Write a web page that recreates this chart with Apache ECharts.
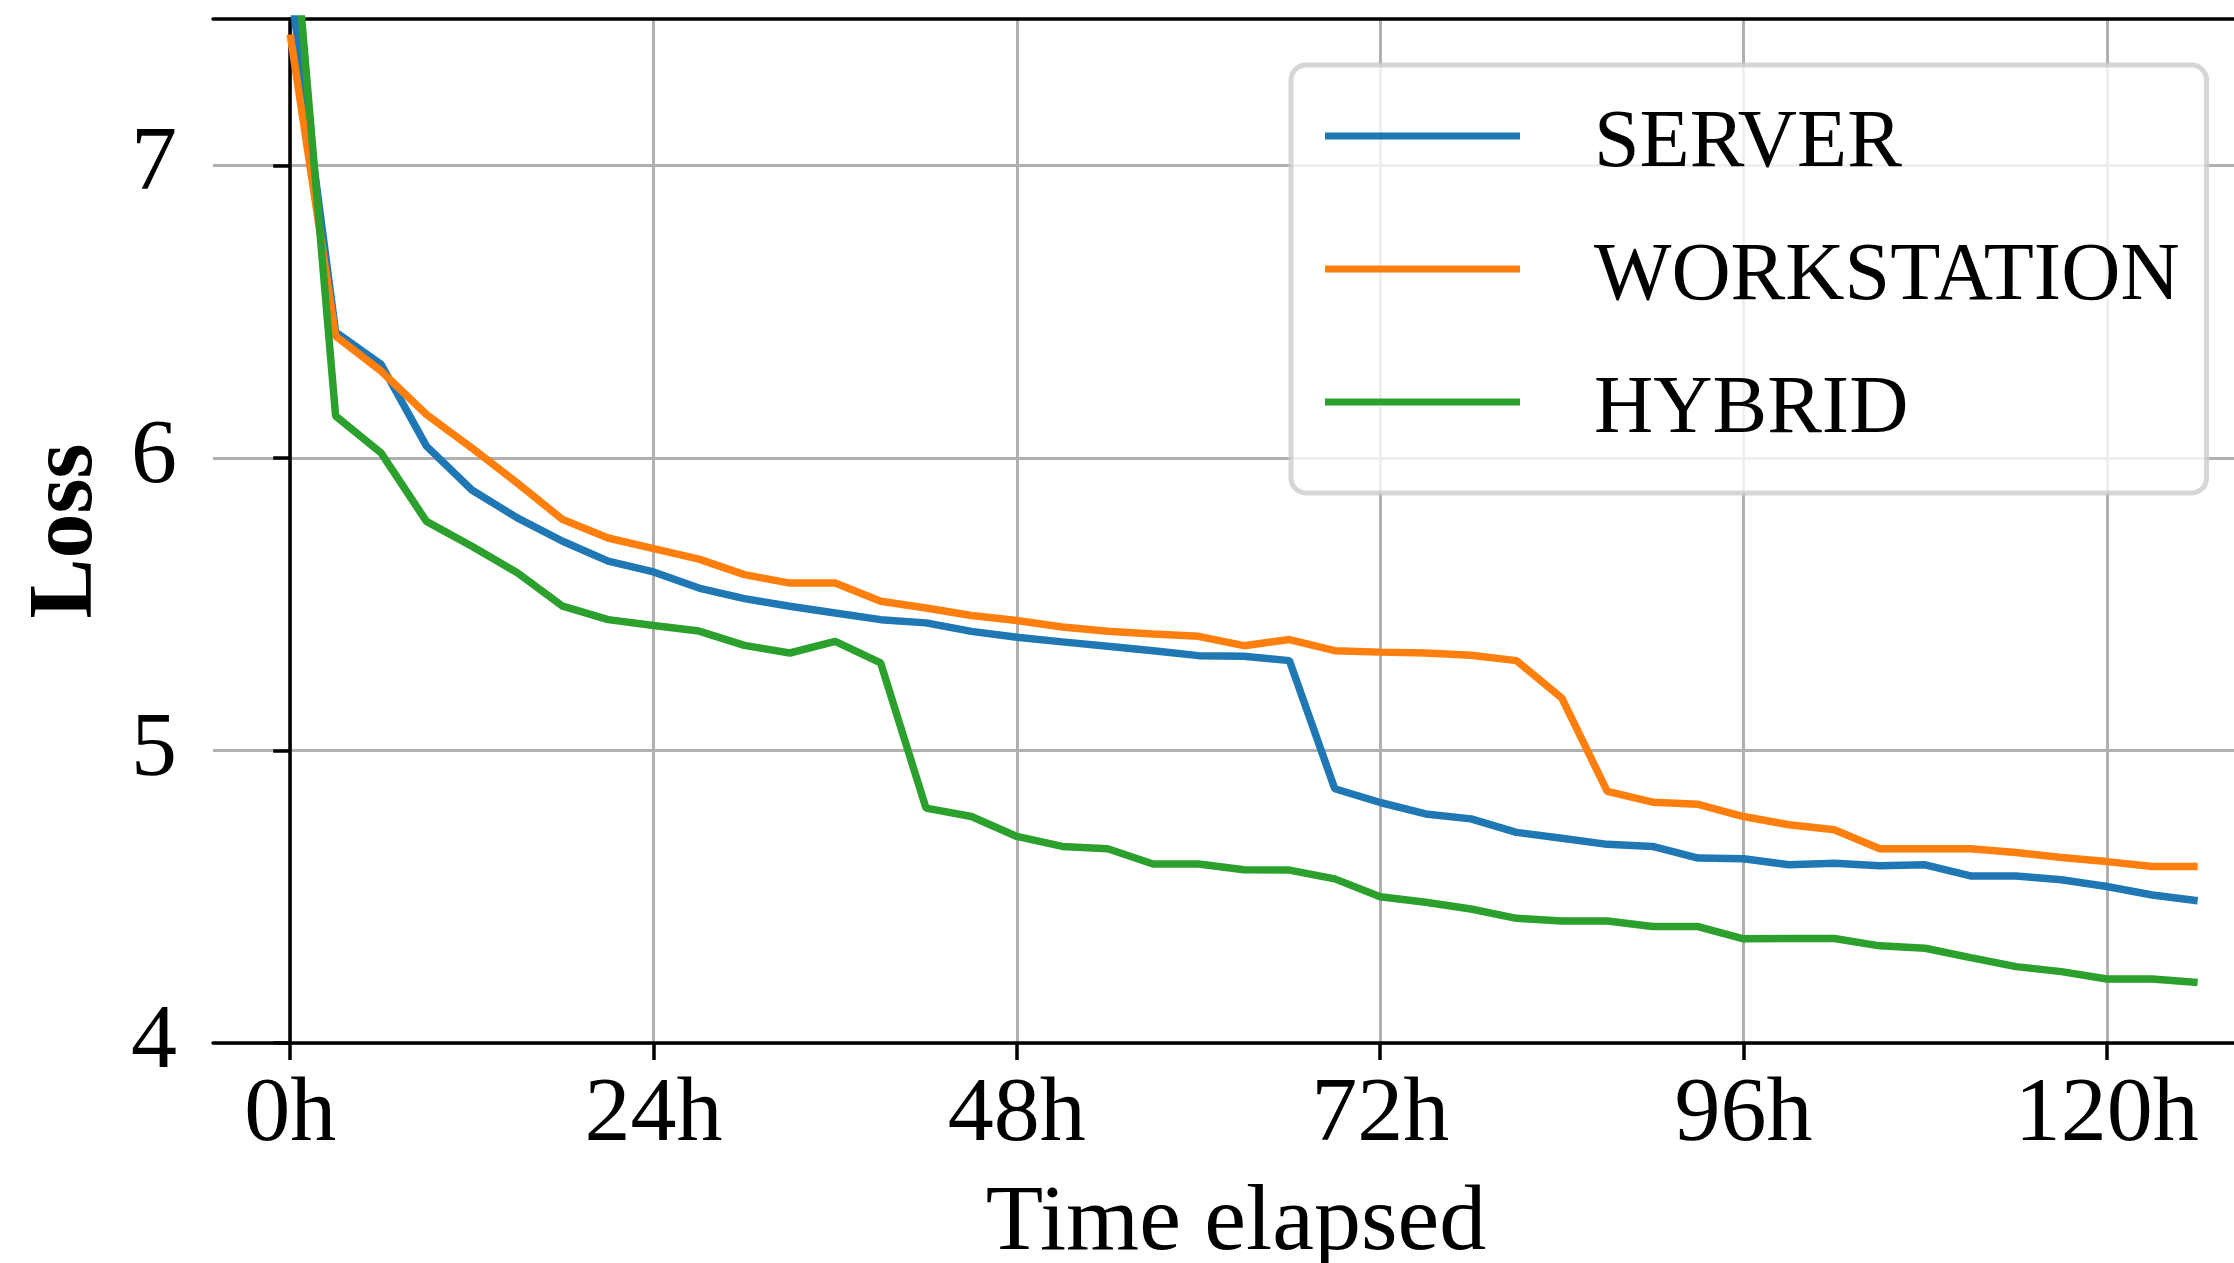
<!DOCTYPE html>
<html>
<head>
<meta charset="utf-8">
<script src="https://cdn.jsdelivr.net/npm/echarts@6.0.0/dist/echarts.min.js"></script>
<style>
  html, body { margin: 0; padding: 0; background: #fff; }
  #chart { width: 2234px; height: 1263px; }
</style>
</head>
<body>
<div id="chart"></div>
<script>
// loss sampled every 3 hours
const hours = [0, 3, 6, 9, 12, 15, 18, 21, 24, 27, 30, 33, 36, 39, 42, 45, 48, 51, 54, 57, 60,
  63, 66, 69, 72, 75, 78, 81, 84, 87, 90, 93, 96, 99, 102, 105, 108, 111, 114, 117, 120, 123, 126];

const server = [7.62, 6.43, 6.32, 6.04, 5.89, 5.795, 5.715, 5.647, 5.61, 5.555, 5.519, 5.493, 5.47,
  5.447, 5.436, 5.407, 5.387, 5.371, 5.356, 5.341, 5.324, 5.322, 5.307, 4.869, 4.822, 4.783, 4.766,
  4.72, 4.70, 4.679, 4.672, 4.632, 4.63, 4.609, 4.614, 4.606, 4.609, 4.571, 4.571, 4.558, 4.535,
  4.506, 4.486];

const workstation = [7.447, 6.416, 6.297, 6.148, 6.034, 5.914, 5.789, 5.726, 5.69, 5.654, 5.601,
  5.572, 5.572, 5.51, 5.487, 5.461, 5.444, 5.422, 5.407, 5.398, 5.39, 5.358, 5.379, 5.341, 5.336,
  5.333, 5.325, 5.307, 5.179, 4.86, 4.823, 4.816, 4.774, 4.746, 4.729, 4.664, 4.664, 4.664, 4.651,
  4.634, 4.62, 4.603, 4.603];

const hybrid = [7.96, 6.143, 6.017, 5.783, 5.698, 5.607, 5.493, 5.447, 5.427, 5.408, 5.359, 5.333,
  5.373, 5.299, 4.803, 4.774, 4.706, 4.672, 4.664, 4.612, 4.612, 4.592, 4.591, 4.561, 4.5, 4.481,
  4.458, 4.426, 4.417, 4.417, 4.398, 4.398, 4.356, 4.357, 4.357, 4.332, 4.324, 4.292, 4.261, 4.244,
  4.219, 4.219, 4.207];

const xTicks = [0, 24, 48, 72, 96, 120];
const yTicks = [4, 5, 6, 7];

const FONT = '"Liberation Serif", "DejaVu Serif", serif';
const X_MIN = -5.1;
const X_MAX = 128.4;

// legend handle: a 195x7 bar, plus an invisible speck so the label sits a bit lower
const LEGEND_ICON = 'path://M0,0L195,0L195,7L0,7Z M0,23L0.01,23L0.01,22.99Z';

function pairs(ys) {
  return hours.map((h, i) => [h, ys[i]]);
}

const chart = echarts.init(document.getElementById('chart'), null, { renderer: 'canvas' });

const lineSeries = (name, data, color) => ({
  name,
  type: 'line',
  data: pairs(data),
  showSymbol: false,
  symbol: 'none',
  clip: true,
  lineStyle: { color, width: 7.5 },
  itemStyle: { color }
});

const spine = { show: true, lineStyle: { color: '#000', width: 3.5 } };

const option = {
  animation: false,
  backgroundColor: '#fff',
  grid: {
    left: 213,
    top: 19,
    bottom: 220,
    right: 0,
    show: false,
    outerBoundsMode: 'none'
  },
  legend: {
    orient: 'vertical',
    left: 1291,
    top: 65,
    icon: LEGEND_ICON,
    itemWidth: 195,
    itemHeight: 23,
    itemGap: 43,
    padding: [34, 27, 38, 34],
    backgroundColor: 'rgba(255,255,255,0.8)',
    borderColor: 'rgba(204,204,204,0.8)',
    borderWidth: 5,
    borderRadius: 15,
    textStyle: {
      fontFamily: FONT,
      fontSize: 82,
      color: '#000',
      lineHeight: 90,
      padding: [0, 0, 0, 69]
    },
    data: ['SERVER', 'WORKSTATION', 'HYBRID']
  },
  xAxis: [
    {
      type: 'value',
      min: X_MIN,
      max: X_MAX,
      name: 'Time elapsed',
      nameLocation: 'middle',
      nameGap: 134,
      nameTextStyle: { fontFamily: FONT, fontSize: 94, color: '#000', padding: [0, 0, 0, 25] },
      axisLine: spine,
      axisTick: { show: true, length: 17, lineStyle: { color: '#000', width: 3.5 }, customValues: xTicks },
      axisLabel: {
        customValues: xTicks,
        margin: 27,
        fontFamily: FONT,
        fontSize: 92,
        color: '#000',
        formatter: v => v + 'h'
      },
      splitLine: { show: true, lineStyle: { color: '#b0b0b0', width: 3 } }
    },
    {
      // top spine only
      type: 'value',
      position: 'top',
      min: X_MIN,
      max: X_MAX,
      axisLine: spine,
      axisTick: { show: false },
      axisLabel: { show: false },
      splitLine: { show: false }
    }
  ],
  yAxis: {
    type: 'value',
    min: 4,
    max: 7.5,
    name: 'Loss',
    nameLocation: 'middle',
    nameGap: 100,
    nameRotate: 90,
    nameTextStyle: { fontFamily: FONT, fontSize: 90, fontWeight: 'bold', color: '#000' },
    axisLine: spine,
    axisTick: { show: true, length: 17, lineStyle: { color: '#000', width: 3.5 }, customValues: yTicks },
    axisLabel: {
      customValues: yTicks,
      margin: 36,
      fontFamily: FONT,
      fontSize: 92,
      color: '#000'
    },
    splitLine: { show: true, lineStyle: { color: '#b0b0b0', width: 3 } }
  },
  series: [
    lineSeries('SERVER', server, '#1f77b4'),
    lineSeries('WORKSTATION', workstation, '#ff7f0e'),
    lineSeries('HYBRID', hybrid, '#2ca02c')
  ]
};

chart.setOption(option);
</script>
</body>
</html>
